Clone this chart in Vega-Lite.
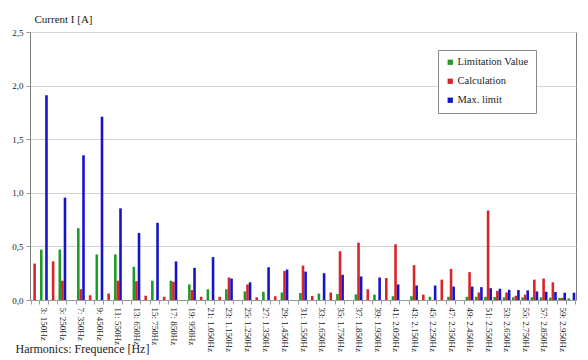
{
  "$schema": "https://vega.github.io/schema/vega-lite/v6.json",
  "width": 546,
  "height": 268,
  "autosize": {"type": "none"},
  "padding": {"left": 30, "top": 32, "right": 12, "bottom": 60},
  "background": "white",
  "data": {"values": [
    {"n": 2, "s": "Calculation", "v": 0.34},
    {"n": 3, "s": "Limitation Value", "v": 0.47}, {"n": 3, "s": "Max. limit", "v": 1.91},
    {"n": 4, "s": "Calculation", "v": 0.36},
    {"n": 5, "s": "Limitation Value", "v": 0.47}, {"n": 5, "s": "Calculation", "v": 0.18}, {"n": 5, "s": "Max. limit", "v": 0.955},
    {"n": 6, "s": "Calculation", "v": 0},
    {"n": 7, "s": "Limitation Value", "v": 0.67}, {"n": 7, "s": "Calculation", "v": 0.10}, {"n": 7, "s": "Max. limit", "v": 1.35},
    {"n": 8, "s": "Calculation", "v": 0.044},
    {"n": 9, "s": "Limitation Value", "v": 0.425}, {"n": 9, "s": "Max. limit", "v": 1.71},
    {"n": 10, "s": "Calculation", "v": 0.06},
    {"n": 11, "s": "Limitation Value", "v": 0.425}, {"n": 11, "s": "Calculation", "v": 0.18}, {"n": 11, "s": "Max. limit", "v": 0.855},
    {"n": 12, "s": "Calculation", "v": 0},
    {"n": 13, "s": "Limitation Value", "v": 0.31}, {"n": 13, "s": "Calculation", "v": 0.175}, {"n": 13, "s": "Max. limit", "v": 0.625},
    {"n": 14, "s": "Calculation", "v": 0.04},
    {"n": 15, "s": "Limitation Value", "v": 0.18}, {"n": 15, "s": "Max. limit", "v": 0.72},
    {"n": 16, "s": "Calculation", "v": 0.03},
    {"n": 17, "s": "Limitation Value", "v": 0.18}, {"n": 17, "s": "Calculation", "v": 0.17}, {"n": 17, "s": "Max. limit", "v": 0.36},
    {"n": 18, "s": "Calculation", "v": 0},
    {"n": 19, "s": "Limitation Value", "v": 0.145}, {"n": 19, "s": "Calculation", "v": 0.093}, {"n": 19, "s": "Max. limit", "v": 0.30},
    {"n": 20, "s": "Calculation", "v": 0.03},
    {"n": 21, "s": "Limitation Value", "v": 0.10}, {"n": 21, "s": "Max. limit", "v": 0.40},
    {"n": 22, "s": "Calculation", "v": 0.03},
    {"n": 23, "s": "Limitation Value", "v": 0.10}, {"n": 23, "s": "Calculation", "v": 0.21}, {"n": 23, "s": "Max. limit", "v": 0.20},
    {"n": 24, "s": "Calculation", "v": 0},
    {"n": 25, "s": "Limitation Value", "v": 0.08}, {"n": 25, "s": "Calculation", "v": 0.145}, {"n": 25, "s": "Max. limit", "v": 0.165},
    {"n": 26, "s": "Calculation", "v": 0.025},
    {"n": 27, "s": "Limitation Value", "v": 0.077}, {"n": 27, "s": "Max. limit", "v": 0.305},
    {"n": 28, "s": "Calculation", "v": 0.035},
    {"n": 29, "s": "Limitation Value", "v": 0.07}, {"n": 29, "s": "Calculation", "v": 0.27}, {"n": 29, "s": "Max. limit", "v": 0.285},
    {"n": 30, "s": "Calculation", "v": 0},
    {"n": 31, "s": "Limitation Value", "v": 0.065}, {"n": 31, "s": "Calculation", "v": 0.32}, {"n": 31, "s": "Max. limit", "v": 0.265},
    {"n": 32, "s": "Calculation", "v": 0.037},
    {"n": 33, "s": "Limitation Value", "v": 0.06}, {"n": 33, "s": "Max. limit", "v": 0.25},
    {"n": 34, "s": "Calculation", "v": 0.07},
    {"n": 35, "s": "Limitation Value", "v": 0.055}, {"n": 35, "s": "Calculation", "v": 0.455}, {"n": 35, "s": "Max. limit", "v": 0.235},
    {"n": 36, "s": "Calculation", "v": 0},
    {"n": 37, "s": "Limitation Value", "v": 0.053}, {"n": 37, "s": "Calculation", "v": 0.535}, {"n": 37, "s": "Max. limit", "v": 0.22},
    {"n": 38, "s": "Calculation", "v": 0.10},
    {"n": 39, "s": "Limitation Value", "v": 0.05}, {"n": 39, "s": "Max. limit", "v": 0.21},
    {"n": 40, "s": "Calculation", "v": 0.205},
    {"n": 41, "s": "Limitation Value", "v": 0.035}, {"n": 41, "s": "Calculation", "v": 0.52}, {"n": 41, "s": "Max. limit", "v": 0.145},
    {"n": 42, "s": "Calculation", "v": 0},
    {"n": 43, "s": "Limitation Value", "v": 0.035}, {"n": 43, "s": "Calculation", "v": 0.325}, {"n": 43, "s": "Max. limit", "v": 0.135},
    {"n": 44, "s": "Calculation", "v": 0.05},
    {"n": 45, "s": "Limitation Value", "v": 0.03}, {"n": 45, "s": "Max. limit", "v": 0.135},
    {"n": 46, "s": "Calculation", "v": 0.19},
    {"n": 47, "s": "Limitation Value", "v": 0.03}, {"n": 47, "s": "Calculation", "v": 0.29}, {"n": 47, "s": "Max. limit", "v": 0.125},
    {"n": 48, "s": "Calculation", "v": 0},
    {"n": 49, "s": "Limitation Value", "v": 0.03}, {"n": 49, "s": "Calculation", "v": 0.26}, {"n": 49, "s": "Max. limit", "v": 0.125},
    {"n": 50, "s": "Limitation Value", "v": 0.03}, {"n": 50, "s": "Calculation", "v": 0.07}, {"n": 50, "s": "Max. limit", "v": 0.12},
    {"n": 51, "s": "Limitation Value", "v": 0.03}, {"n": 51, "s": "Calculation", "v": 0.835}, {"n": 51, "s": "Max. limit", "v": 0.11},
    {"n": 52, "s": "Limitation Value", "v": 0.028}, {"n": 52, "s": "Calculation", "v": 0.085}, {"n": 52, "s": "Max. limit", "v": 0.105},
    {"n": 53, "s": "Limitation Value", "v": 0.025}, {"n": 53, "s": "Calculation", "v": 0.07}, {"n": 53, "s": "Max. limit", "v": 0.095},
    {"n": 54, "s": "Limitation Value", "v": 0.025}, {"n": 54, "s": "Calculation", "v": 0.04}, {"n": 54, "s": "Max. limit", "v": 0.093},
    {"n": 55, "s": "Limitation Value", "v": 0.025}, {"n": 55, "s": "Calculation", "v": 0.05}, {"n": 55, "s": "Max. limit", "v": 0.09},
    {"n": 56, "s": "Limitation Value", "v": 0.025}, {"n": 56, "s": "Calculation", "v": 0.19}, {"n": 56, "s": "Max. limit", "v": 0.08},
    {"n": 57, "s": "Limitation Value", "v": 0.025}, {"n": 57, "s": "Calculation", "v": 0.20}, {"n": 57, "s": "Max. limit", "v": 0.077},
    {"n": 58, "s": "Limitation Value", "v": 0.022}, {"n": 58, "s": "Calculation", "v": 0.165}, {"n": 58, "s": "Max. limit", "v": 0.075},
    {"n": 59, "s": "Limitation Value", "v": 0.02}, {"n": 59, "s": "Calculation", "v": 0.02}, {"n": 59, "s": "Max. limit", "v": 0.068},
    {"n": 60, "s": "Limitation Value", "v": 0.015}, {"n": 60, "s": "Max. limit", "v": 0.068}
  ]},
  "mark": {"type": "bar"},
  "encoding": {
    "x": {
      "field": "n", "type": "ordinal",
      "scale": {"paddingInner": 0.16, "paddingOuter": 0.08},
      "axis": {
        "title": "Harmonics: Frequence [Hz]",
        "labelExpr": "datum.value % 2 == 1 ? datum.value + ': ' + replace(format(datum.value * 50, ','), ',', '.') + 'Hz' : ''",
        "labelAngle": 90, "labelOverlap": false, "labelFontSize": 9, "labelPadding": 3,
        "tickBand": "extent", "tickSize": 4, "tickColor": "#999", "domainColor": "#999",
        "titleX": -15, "titleY": 48, "titleAlign": "left", "titleBaseline": "middle",
        "titleFontSize": 12, "titleFontWeight": "normal"
      }
    },
    "xOffset": {
      "field": "s", "type": "nominal",
      "scale": {"domain": ["Limitation Value", "Calculation", "Max. limit"], "paddingInner": 0, "paddingOuter": 0}
    },
    "y": {
      "field": "v", "type": "quantitative",
      "scale": {"domain": [0, 2.5]},
      "axis": {
        "values": [0, 0.5, 1, 1.5, 2, 2.5],
        "labelExpr": "replace(datum.label, '.', ',')",
        "title": "Current I [A]", "titleAngle": 0, "titleX": 4, "titleY": -13,
        "titleAlign": "left", "titleBaseline": "middle", "titleFontSize": 11, "titleFontWeight": "normal",
        "gridColor": "#d4d4d4", "tickSize": 4, "tickColor": "#999", "domainColor": "#7f7f7f",
        "labelFontSize": 9, "labelPadding": 3
      }
    },
    "color": {
      "field": "s", "type": "nominal",
      "scale": {"domain": ["Limitation Value", "Calculation", "Max. limit"], "range": ["#1f9a2b", "#d8242a", "#1414c8"]},
      "legend": {
        "title": null, "orient": "none", "legendX": 408, "legendY": 18, "direction": "vertical",
        "symbolType": "square", "symbolSize": 28, "symbolStrokeWidth": 0,
        "labelFontSize": 10.5, "labelOffset": 2, "rowPadding": 8, "padding": 7,
        "strokeColor": "#888", "fillColor": "white", "labelLimit": 200
      }
    }
  },
  "config": {
    "font": "Liberation Serif",
    "view": {"stroke": "#7f7f7f"},
    "axis": {"labelFont": "Liberation Serif", "titleFont": "Liberation Serif", "labelColor": "#222", "titleColor": "#222"},
    "legend": {"labelFont": "Liberation Serif", "labelColor": "#222"}
  }
}
